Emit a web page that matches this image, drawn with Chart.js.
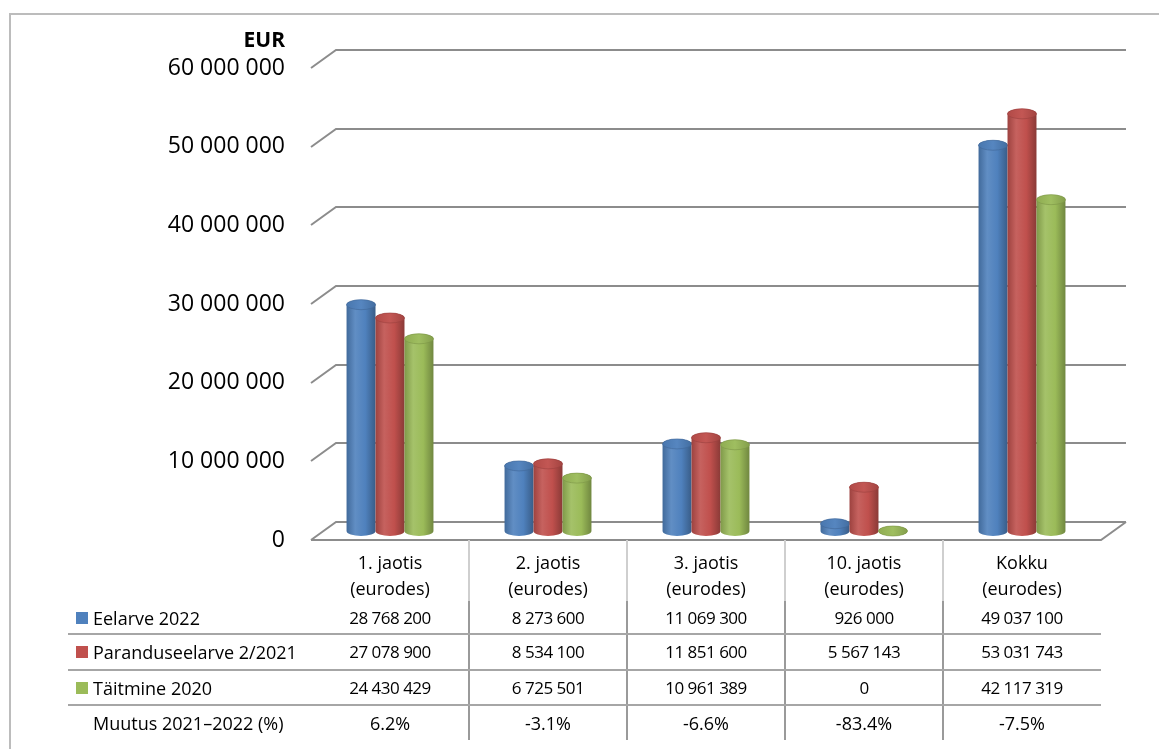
<!DOCTYPE html>
<html>
<head>
<meta charset="utf-8">
<script src="https://cdn.jsdelivr.net/npm/chart.js@4.4.1/dist/chart.umd.min.js"></script>
<style>
    html, body { margin: 0; padding: 0; background: #fff; }
    #wrap { position: relative; width: 1159px; height: 749px; overflow: hidden; font-family: "Open Sans", sans-serif; color: #000; }
    #frame { position: absolute; left: 9px; top: 13px; width: 1300px; height: 900px; border: 2px solid #bcbcbc; }
    #chart { position: absolute; left: 0; top: 0; }
    #eur { position: absolute; right: 874px; top: 25px; font-size: 21px; font-weight: bold; line-height: 28px; }
    .cell { position: absolute; text-align: center; font-size: 17px; letter-spacing: -0.5px; white-space: nowrap; }
    .cell.txt { font-size: 18px; letter-spacing: 0; }
    .lbl { position: absolute; font-size: 18px; white-space: nowrap; }
    .sq { position: absolute; width: 12px; height: 12px; }
    .line { position: absolute; }
</style>
</head>
<body>
<div id="wrap">
    <div id="frame"></div>
    <canvas id="chart" width="1159" height="749"></canvas>
    <div id="eur">EUR</div>
    <div id="table"></div>
</div>
<script>
// ############ data ############
const categories = [
    ["1. jaotis", "(eurodes)"],
    ["2. jaotis", "(eurodes)"],
    ["3. jaotis", "(eurodes)"],
    ["10. jaotis", "(eurodes)"],
    ["Kokku", "(eurodes)"],
];
const seriesNames = ["Eelarve 2022", "Paranduseelarve 2/2021", "Täitmine 2020"];
const eelarve2022 = [28768200, 8273600, 11069300, 926000, 49037100];
const paranduseelarve2021 = [27078900, 8534100, 11851600, 5567143, 53031743];
const taitmine2020 = [24430429, 6725501, 10961389, 0, 42117319];
const muutusLabel = "Muutus 2021–2022 (%)";
const muutus = ["6.2%", "-3.1%", "-6.6%", "-83.4%", "-7.5%"];
const yTicks = [0, 10000000, 20000000, 30000000, 40000000, 50000000, 60000000];

const seriesColors = ["#4f81bd", "#c0504d", "#9bbb59"];
const depth = { dx: 25, dy: 18 };

function fmt(n) {
    return String(n).replace(/\B(?=(\d{3})+(?!\d))/g, " ");
}

function shade(hex, amt) {
    let r = parseInt(hex.slice(1, 3), 16), g = parseInt(hex.slice(3, 5), 16), b = parseInt(hex.slice(5, 7), 16);
    const t = amt < 0 ? 0 : 255, p = Math.abs(amt);
    r = Math.round(r + (t - r) * p); g = Math.round(g + (t - g) * p); b = Math.round(b + (t - b) * p);
    return "rgb(" + r + "," + g + "," + b + ")";
}

function drawCylinder(ctx, bar, color) {
    const p = bar.getProps(["x", "y", "base", "width"], true);
    const rx = p.width / 2, ry = 5;
    const left = p.x - rx, right = p.x + rx;
    const top = Math.min(p.y, p.base);

    const g = ctx.createLinearGradient(left, 0, right, 0);
    g.addColorStop(0, shade(color, -0.18));
    g.addColorStop(0.3, shade(color, 0.1));
    g.addColorStop(0.65, color);
    g.addColorStop(1, shade(color, -0.28));
    ctx.fillStyle = g;
    ctx.beginPath();
    ctx.moveTo(left, top);
    ctx.lineTo(left, p.base);
    ctx.ellipse(p.x, p.base, rx, ry, 0, Math.PI, 0, true);
    ctx.lineTo(right, top);
    ctx.ellipse(p.x, top, rx, ry, 0, 0, Math.PI, true);
    ctx.closePath();
    ctx.fill();

    // top cap
    const gt = ctx.createLinearGradient(left, 0, right, 0);
    gt.addColorStop(0, shade(color, -0.08));
    gt.addColorStop(0.5, shade(color, 0.04));
    gt.addColorStop(1, shade(color, -0.15));
    ctx.fillStyle = gt;
    ctx.beginPath();
    ctx.ellipse(p.x, top, rx, ry, 0, 0, Math.PI * 2);
    ctx.fill();
    ctx.strokeStyle = shade(color, -0.2);
    ctx.lineWidth = 0.6;
    ctx.stroke();
}

// walls, floor and cylinders
const wall3d = {
    id: "wall3d",
    beforeDatasetsDraw(chart) {
        const ctx = chart.ctx, area = chart.chartArea, y = chart.scales.y;
        const hy = depth.dy / 2;
        ctx.save();
        ctx.strokeStyle = "#8c8c8c";
        ctx.lineWidth = 2;
        yTicks.forEach(v => {
            const py = Math.round(y.getPixelForValue(v));
            ctx.beginPath();
            ctx.moveTo(area.left, py + hy);
            ctx.lineTo(area.left + depth.dx, py - hy);
            ctx.lineTo(area.right + depth.dx, py - hy);
            ctx.stroke();
        });
        const base = Math.round(y.getPixelForValue(0));
        ctx.beginPath();
        ctx.moveTo(area.left, base + hy);
        ctx.lineTo(area.right, base + hy);
        ctx.lineTo(area.right + depth.dx, base - hy);
        ctx.stroke();

        chart.data.datasets.forEach((ds, i) => {
            chart.getDatasetMeta(i).data.forEach(bar => drawCylinder(ctx, bar, seriesColors[i]));
        });
        ctx.restore();
        return false;
    },
};

const chart = new Chart(document.getElementById("chart").getContext("2d"), {
    type: "bar",
    data: {
        labels: categories.map(c => c.join(" ")),
        datasets: [
            { label: seriesNames[0], data: eelarve2022, backgroundColor: seriesColors[0] },
            { label: seriesNames[1], data: paranduseelarve2021, backgroundColor: seriesColors[1] },
            { label: seriesNames[2], data: taitmine2020, backgroundColor: seriesColors[2] },
        ],
    },
    options: {
        responsive: false,
        animation: false,
        devicePixelRatio: 1,
        categoryPercentage: 0.55,
        barPercentage: 1,
        layout: { padding: { left: 0, top: 59, right: 58, bottom: 218 } },
        plugins: { legend: { display: false }, tooltip: { enabled: false } },
        scales: {
            x: { display: false },
            y: {
                min: 0,
                max: 60000000,
                afterFit(scale) { scale.width = 311; },
                afterBuildTicks(scale) { scale.ticks = yTicks.map(v => ({ value: v })); },
                grid: { display: false, drawTicks: false },
                border: { display: false },
                ticks: {
                    padding: 26,
                    labelOffset: 9,
                    color: "#000",
                    font: { family: "Open Sans", size: 23 },
                    callback: v => fmt(v),
                },
            },
        },
    },
    plugins: [wall3d],
});

// ############ data table ############
const table = document.getElementById("table");
function add(cls, css, text) {
    const d = document.createElement("div");
    d.className = cls;
    Object.assign(d.style, css);
    if (text !== undefined) d.textContent = text;
    table.appendChild(d);
    return d;
}

const xs = chart.scales.x;
const colW = (chart.chartArea.right - chart.chartArea.left) / categories.length;
const rowCenters = [618, 652, 688, 723];
const rowValues = [eelarve2022.map(fmt), paranduseelarve2021.map(fmt), taitmine2020.map(fmt), muutus];
const rowNames = seriesNames.concat([muutusLabel]);

categories.forEach((c, i) => {
    const cx = xs.getPixelForValue(i);
    add("cell txt", { left: (cx - colW / 2) + "px", width: colW + "px", top: "549px", lineHeight: "26px" }).innerHTML = c[0] + "<br>" + c[1];
    rowValues.forEach((vals, r) => {
        add(r === 3 ? "cell txt" : "cell", { left: (cx - colW / 2) + "px", width: colW + "px", top: (rowCenters[r] - 17) + "px", height: "34px", lineHeight: "34px" }, vals[i]);
    });
    if (i > 0) {
        const lx = Math.round(cx - colW / 2) - 1;
        add("line", { left: lx + "px", top: "540px", width: "2px", height: "61px", background: "#cfcfcf" });
        add("line", { left: lx + "px", top: "601px", width: "2px", height: "139px", background: "#9a9a9a" });
    }
});

rowNames.forEach((name, r) => {
    add("lbl", { left: "93px", top: (rowCenters[r] - 17) + "px", height: "34px", lineHeight: "34px" }, name);
    if (r < seriesColors.length) {
        add("sq", { left: "76px", top: (rowCenters[r] - 6) + "px", background: seriesColors[r] });
    }
});

[634, 670, 705].forEach(y => {
    add("line", { left: "68px", top: (y - 1) + "px", width: (chart.chartArea.right - 68) + "px", height: "2px", background: "#a6a6a6" });
});
</script>
</body>
</html>
